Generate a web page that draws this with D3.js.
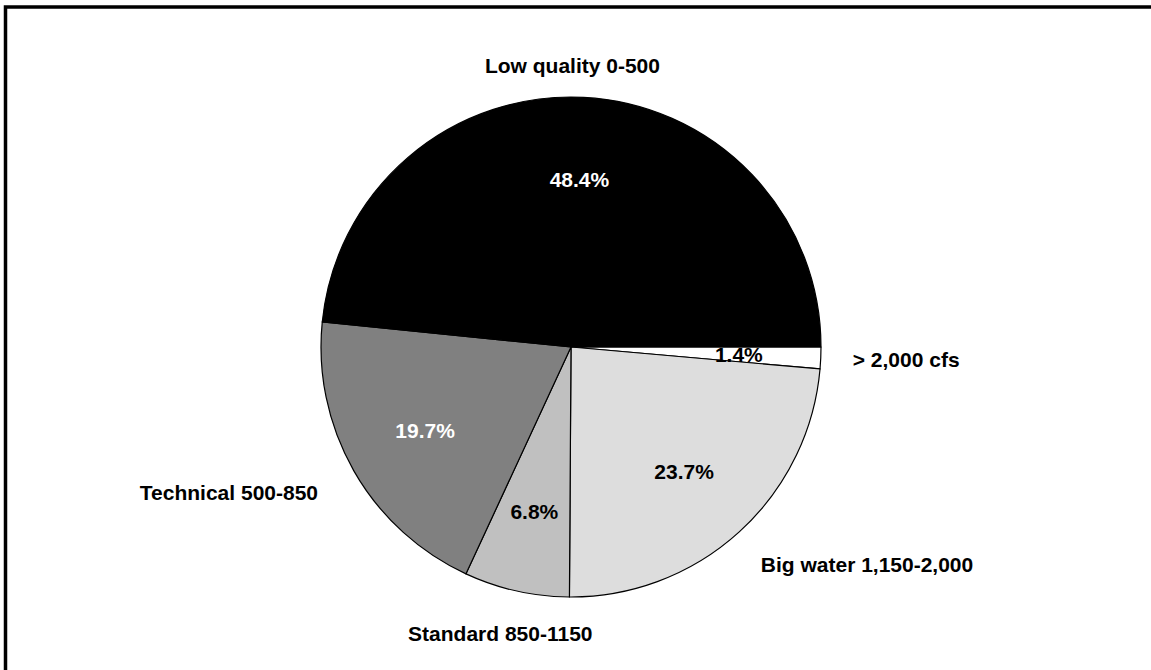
<!DOCTYPE html>
<html>
<head>
<meta charset="utf-8">
<script src="https://cdn.jsdelivr.net/npm/d3@7"></script>
<style>
  html, body { margin: 0; padding: 0; background: #fff; }
  svg { display: block; }
  text { font-family: Arial, "Liberation Sans", sans-serif; font-weight: bold; }
</style>
</head>
<body>
<svg id="chart" width="1151" height="670"></svg>
<script>
// Flow ranges, listed clockwise starting from the 3 o'clock position
const categories = ["> 2,000 cfs", "Big water 1,150-2,000", "Standard 850-1150", "Technical 500-850", "Low quality 0-500"];
const shares = [1.4, 23.7, 6.8, 19.7, 48.4];
const fills = ["#ffffff", "#dddddd", "#c0c0c0", "#808080", "#000000"];
const valueColors = ["#000000", "#000000", "#000000", "#ffffff", "#ffffff"];

const W = 1151, H = 670;
const cx = 571, cy = 347, radius = 250;
const fontSize = 21;

const svg = d3.select("#chart");

// Open frame: only top and left edges
svg.append("path")
  .attr("d", `M5.5,${H} L5.5,7 L${W},7`)
  .attr("fill", "none")
  .attr("stroke", "#000")
  .attr("stroke-width", 3.5);

const rows = categories.map((c, i) => ({ name: c, value: shares[i], fill: fills[i], ink: valueColors[i] }));

const pie = d3.pie()
  .sort(null)
  .value(d => d.value)
  .startAngle(Math.PI / 2)
  .endAngle(Math.PI / 2 + 2 * Math.PI);

const arcs = pie(rows);

const arc = d3.arc().innerRadius(0).outerRadius(radius);
const valueArc = d3.arc().innerRadius(168).outerRadius(168);

const g = svg.append("g").attr("transform", `translate(${cx},${cy})`);

g.selectAll("path.slice")
  .data(arcs)
  .join("path")
  .attr("class", "slice")
  .attr("d", arc)
  .attr("fill", d => d.data.fill)
  .attr("stroke", "#000")
  .attr("stroke-width", 1.2)
  .attr("stroke-linejoin", "round");

const fmt = d3.format(".1f");

g.selectAll("text.value")
  .data(arcs)
  .join("text")
  .attr("class", "value")
  .attr("transform", d => `translate(${valueArc.centroid(d)})`)
  .attr("text-anchor", "middle")
  .attr("dy", "0.36em")
  .attr("font-size", fontSize)
  .attr("fill", d => d.data.ink)
  .text(d => fmt(d.data.value) + "%");

// Category labels sit just outside the rim along each slice's mid angle
const labelR = 282;
g.selectAll("text.cat")
  .data(arcs)
  .join("text")
  .attr("class", "cat")
  .attr("font-size", fontSize)
  .attr("fill", "#000")
  .text(d => d.data.name)
  .each(function(d) {
    const mid = (d.startAngle + d.endAngle) / 2;
    const c = Math.sin(mid), s = -Math.cos(mid);
    const px = labelR * c, py = labelR * s;
    const anchor = c > 0.4 ? "start" : (c < -0.4 ? "end" : "middle");
    let x = px;
    if (anchor === "middle") x = s > 0 ? px * 1.15 : px * 0.1;
    if (anchor === "end") x = px - 8;
    const y = py + (s > 0 ? s * fontSize * 0.55 : 0);
    d3.select(this)
      .attr("text-anchor", anchor)
      .attr("x", x)
      .attr("y", y)
      .attr("dy", "0.36em");
  });
</script>
</body>
</html>
